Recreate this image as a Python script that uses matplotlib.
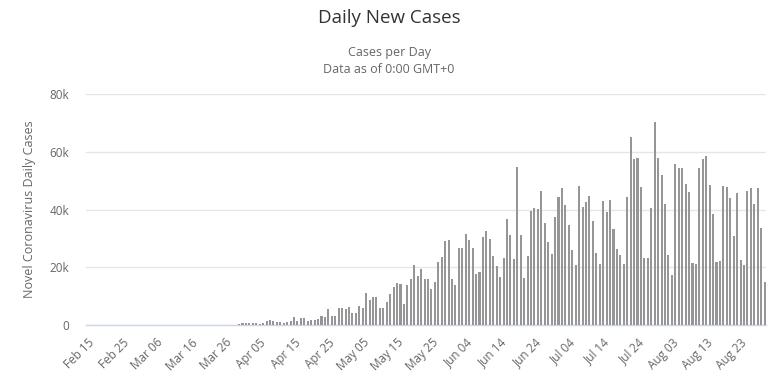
import numpy as np
import pandas as pd
import matplotlib
matplotlib.use("Agg")
import matplotlib.pyplot as plt

# Daily new cases, one value per day starting Feb 15
feb_mar = [0, 0, 0, 0, 0, 0, 0, 0, 0, 0, 0, 1, 0, 0, 0,
           0, 0, 0, 0, 1, 2, 2, 3, 2, 5, 3, 4, 8, 12, 15,
           15, 20, 25, 30, 35, 40, 45, 50, 60, 60, 55, 70, 65, 70, 300,
           750]
april = [700, 700, 750, 700, 500, 600, 1400, 1600, 1400, 1200, 900, 800, 900, 1500,
         2800, 1500, 2400, 2400, 1500, 1600, 1900, 2100, 3200, 2800, 5500, 3200,
         3200, 5900, 5900, 5400]
may = [6200, 4000, 4000, 6600, 5900, 11200, 8500, 9700, 9700, 5900, 5900, 7800,
       10900, 13200, 14700, 14300, 7400, 13900, 15800, 20700, 17000, 19300, 15800,
       15800, 12400, 15000, 21800, 23400, 29100, 29400, 15800]
june = [13900, 26800, 26800, 31400, 29400, 26800, 17700, 18400, 30600, 32600,
        29900, 23900, 20300, 16700, 23100, 36700, 31100, 22700, 54800, 31100,
        16300, 23900, 39500, 40500, 40200, 46400, 35300, 28700, 24600, 37500]
july = [44400, 47400, 41400, 34500, 25900, 20800, 48300, 41000, 42600, 44700,
        36000, 24900, 21100, 42900, 39100, 43300, 33400, 26200, 24200, 21100,
        44200, 65000, 57400, 57700, 47700, 23100, 23100, 40400, 70200, 57700,
        51900]
august = [42000, 24200, 17300, 55800, 54400, 54400, 48900, 45900, 21500, 21100,
          54400, 57400, 58500, 48500, 38300, 21800, 22300, 48100, 47700, 44000,
          30700, 45600, 22600, 20800, 46400, 47300, 42000, 47300, 33700, 14800]

cases = feb_mar + april + may + june + july + august
dates = pd.date_range("2020-02-15", periods=len(cases), freq="D")
tick_labels = [d.strftime("%b %d") for d in dates]

plt.rcParams["font.family"] = ["Open Sans", "DejaVu Sans"]

fig = plt.figure(figsize=(7.78, 3.84), dpi=100)
ax = fig.add_axes([0.1108, 0.1536, 0.8742, 0.6016])

x = np.arange(len(cases))
ax.bar(x, cases, width=0.6, color="#969696", zorder=3)

ax.set_xlim(-0.5, len(cases) - 0.5)
ax.set_ylim(0, 80000)
ax.set_yticks([0, 20000, 40000, 60000, 80000])
ax.set_yticklabels(["0", "20k", "40k", "60k", "80k"])
ax.yaxis.grid(True, color="#e6e6e6", linewidth=1, zorder=0)
ax.set_axisbelow(True)

ax.set_xticks(x[::10])
ax.set_xticklabels(tick_labels[::10], rotation=45, ha="right", va="top",
                   rotation_mode="anchor")

for s in ["top", "right", "left"]:
    ax.spines[s].set_visible(False)
ax.spines["bottom"].set_color("#ccd6eb")
ax.spines["bottom"].set_linewidth(1)
ax.tick_params(axis="both", length=0, labelsize=8.5, colors="#666666")
ax.tick_params(axis="x", pad=8)
ax.tick_params(axis="y", pad=12)

ax.set_ylabel("Novel Coronavirus Daily Cases", fontsize=9, color="#666666",
              labelpad=10)

fig.text(0.5, 0.953, "Daily New Cases", ha="center", va="center",
         fontsize=13.5, color="#333333")
fig.text(0.5, 0.862, "Cases per Day", ha="center", va="center",
         fontsize=9, color="#666666")
fig.text(0.5, 0.818, "Data as of 0:00 GMT+0", ha="center", va="center",
         fontsize=9, color="#666666")

fig.savefig("out.png", dpi=100)
